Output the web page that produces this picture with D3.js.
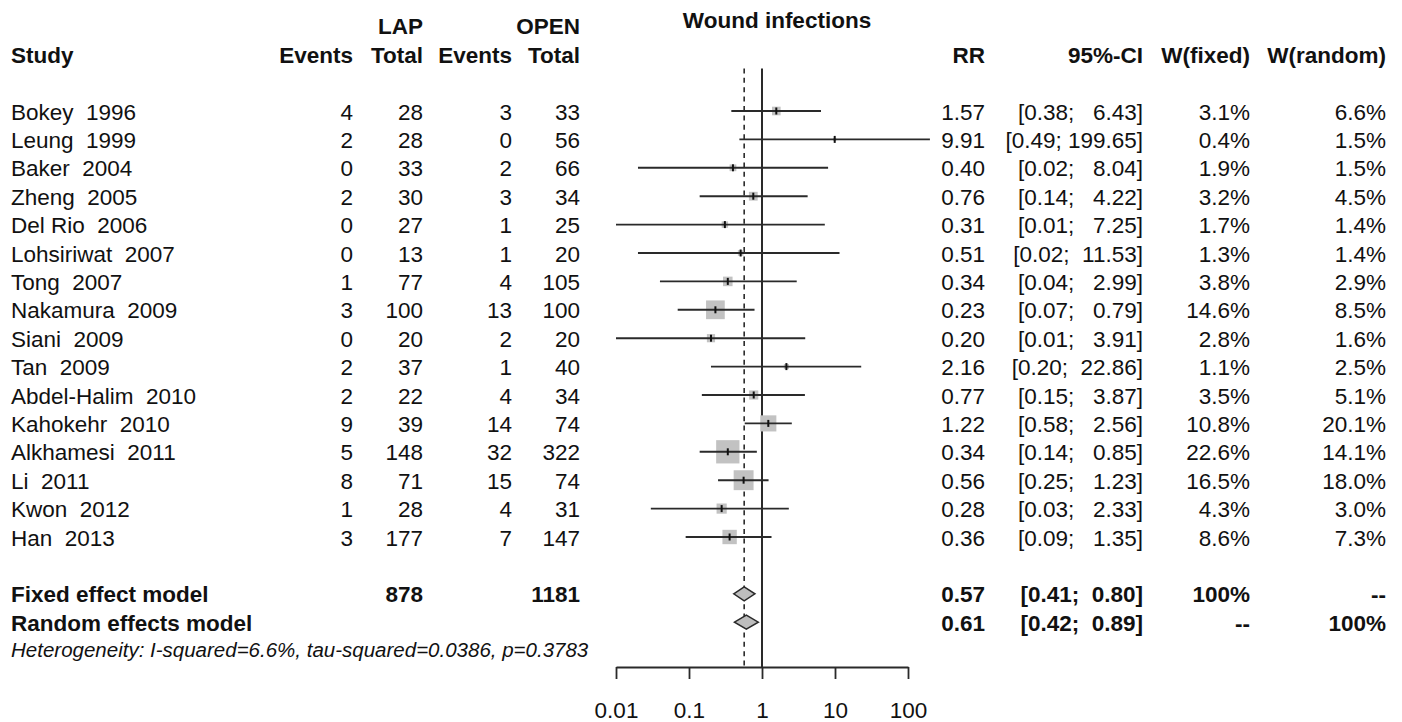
<!DOCTYPE html>
<html><head><meta charset="utf-8">
<script src="https://cdn.jsdelivr.net/npm/d3@7"></script>
<style>
body{margin:0;background:#fff;}
svg{display:block;}
text{font-family:"Liberation Sans",Arial,Helvetica,sans-serif;white-space:pre;fill:#111;}
</style></head><body>
<svg id="c" width="1402" height="722"></svg>
<script>
const studies = ["Bokey  1996","Leung  1999","Baker  2004","Zheng  2005","Del Rio  2006","Lohsiriwat  2007","Tong  2007","Nakamura  2009","Siani  2009","Tan  2009","Abdel-Halim  2010","Kahokehr  2010","Alkhamesi  2011","Li  2011","Kwon  2012","Han  2013"];
const lapEvents = [4,2,0,2,0,0,1,3,0,2,2,9,5,8,1,3];
const lapTotal = [28,28,33,30,27,13,77,100,20,37,22,39,148,71,28,177];
const openEvents = [3,0,2,3,1,1,4,13,2,1,4,14,32,15,4,7];
const openTotal = [33,56,66,34,25,20,105,100,20,40,34,74,322,74,31,147];
const rr = [1.57,9.91,0.40,0.76,0.31,0.51,0.34,0.23,0.20,2.16,0.77,1.22,0.34,0.56,0.28,0.36];
const lower = [0.38,0.49,0.02,0.14,0.01,0.02,0.04,0.07,0.01,0.20,0.15,0.58,0.14,0.25,0.03,0.09];
const upper = [6.43,199.65,8.04,4.22,7.25,11.53,2.99,0.79,3.91,22.86,3.87,2.56,0.85,1.23,2.33,1.35];
const wFixed = [3.1,0.4,1.9,3.2,1.7,1.3,3.8,14.6,2.8,1.1,3.5,10.8,22.6,16.5,4.3,8.6];
const wRandom = [6.6,1.5,1.5,4.5,1.4,1.4,2.9,8.5,1.6,2.5,5.1,20.1,14.1,18.0,3.0,7.3];
const modelLabels = ["Fixed effect model","Random effects model"];
const modelRR = [0.57,0.61];
const modelLower = [0.41,0.42];
const modelUpper = [0.80,0.89];
const modelWFixed = ["100%","--"];
const modelWRandom = ["--","100%"];
const totals = [878,1181];
const hetText = "Heterogeneity: I-squared=6.6%, tau-squared=0.0386, p=0.3783";
const title = "Wound infections";
const tickValues = [0.01,0.1,1,10,100];
const tickLabels = ["0.01","0.1","1","10","100"];

const svg = d3.select("#c");
const FS = 22.5;
const x = d3.scaleLog().domain([0.01,100]).range([616,908]);
const rowY = d3.scaleLinear().domain([0,1]).range([111,139.4]);
const line = "#2a2a2a";
const ciText = (lo,up) => "[" + lo.toFixed(2) + "; " + up.toFixed(2).padStart(6," ") + "]";

// columns (right edges)
const col = {study:11, lapE:353, lapT:423, openE:512, openT:580, rr:985, ci:1143, wf:1250, wr:1386};

function txt(xp, yp, s, opts={}) {
  return svg.append("text").attr("x", xp).attr("y", yp)
    .attr("text-anchor", opts.anchor || "end")
    .attr("font-size", opts.size || FS)
    .attr("font-weight", opts.bold ? "bold" : "normal")
    .attr("font-style", opts.italic ? "italic" : "normal")
    .text(s);
}
const base = i => rowY(i) + 8.5;

// title & headers
txt(777, 28, title, {anchor:"middle", bold:true});
txt(col.lapT, base(-3), "LAP", {bold:true});
txt(col.openT, base(-3), "OPEN", {bold:true});
txt(col.study, base(-2), "Study", {anchor:"start", bold:true});
[["Events",col.lapE],["Total",col.lapT],["Events",col.openE],["Total",col.openT],
 ["RR",col.rr],["95%-CI",col.ci],["W(fixed)",col.wf],["W(random)",col.wr]]
 .forEach(([s,xp]) => txt(xp, base(-2), s, {bold:true}));

// reference lines
const yTop = rowY(-1.5), yAxis = 667;
svg.append("line").attr("x1", x(1)).attr("x2", x(1)).attr("y1", yTop).attr("y2", yAxis)
  .attr("stroke", line).attr("stroke-width", 2);
svg.append("line").attr("x1", x(modelRR[0])).attr("x2", x(modelRR[0])).attr("y1", yTop).attr("y2", yAxis)
  .attr("stroke", line).attr("stroke-width", 1.6).attr("stroke-dasharray", "5,4.4");

// study rows
studies.forEach((s,i) => {
  const y = rowY(i), b = base(i);
  txt(col.study, b, s, {anchor:"start"});
  txt(col.lapE, b, String(lapEvents[i]));
  txt(col.lapT, b, String(lapTotal[i]));
  txt(col.openE, b, String(openEvents[i]));
  txt(col.openT, b, String(openTotal[i]));
  txt(col.rr, b, rr[i].toFixed(2));
  txt(col.ci, b, ciText(lower[i], upper[i]));
  txt(col.wf, b, wFixed[i].toFixed(1) + "%");
  txt(col.wr, b, wRandom[i].toFixed(1) + "%");
  const side = 4.9 * Math.sqrt(wFixed[i]);
  svg.append("rect").attr("x", x(rr[i]) - side/2).attr("y", y - side/2)
    .attr("width", side).attr("height", side).attr("fill", "#c2c2c2");
  svg.append("line").attr("x1", x(lower[i])).attr("x2", x(upper[i])).attr("y1", y).attr("y2", y)
    .attr("stroke", line).attr("stroke-width", 1.9);
  svg.append("line").attr("x1", x(rr[i])).attr("x2", x(rr[i])).attr("y1", y - 3.5).attr("y2", y + 3.5)
    .attr("stroke", "#111").attr("stroke-width", 2);
});

// model rows
modelLabels.forEach((m,k) => {
  const i = 17 + k, y = rowY(i), b = base(i);
  txt(col.study, b, m, {anchor:"start", bold:true});
  if (k === 0) {
    txt(col.lapT, b, String(totals[0]), {bold:true});
    txt(col.openT, b, String(totals[1]), {bold:true});
  }
  txt(col.rr, b, modelRR[k].toFixed(2), {bold:true});
  txt(col.ci, b, "[" + modelLower[k].toFixed(2) + ";  " + modelUpper[k].toFixed(2) + "]", {bold:true});
  txt(col.wf, b, modelWFixed[k], {bold:true});
  txt(col.wr, b, modelWRandom[k], {bold:true});
  const h = 7;
  const pts = [[x(modelLower[k]), y], [x(modelRR[k]), y - h], [x(modelUpper[k]), y], [x(modelRR[k]), y + h]];
  svg.append("path").attr("d", d3.line()(pts) + "Z")
    .attr("fill", "#bdbdbd").attr("stroke", line).attr("stroke-width", 1.5);
});
txt(col.study, rowY(19) + 6, hetText, {anchor:"start", italic:true, size:20.5});

// axis
const axis = d3.axisBottom(x).tickValues(tickValues).tickFormat((d,i) => tickLabels[i])
  .tickSize(12).tickSizeOuter(0);
const g = svg.append("g").attr("transform", `translate(0,${yAxis})`).call(axis);
g.select(".domain").attr("stroke", line).attr("stroke-width", 1.8);
g.selectAll(".tick line").attr("stroke", line).attr("stroke-width", 1.8);
g.selectAll(".tick text").attr("font-size", FS).attr("font-family", "Liberation Sans, Arial, sans-serif")
  .attr("fill", "#111").attr("dy", null).attr("y", 51);
</script></body></html>
